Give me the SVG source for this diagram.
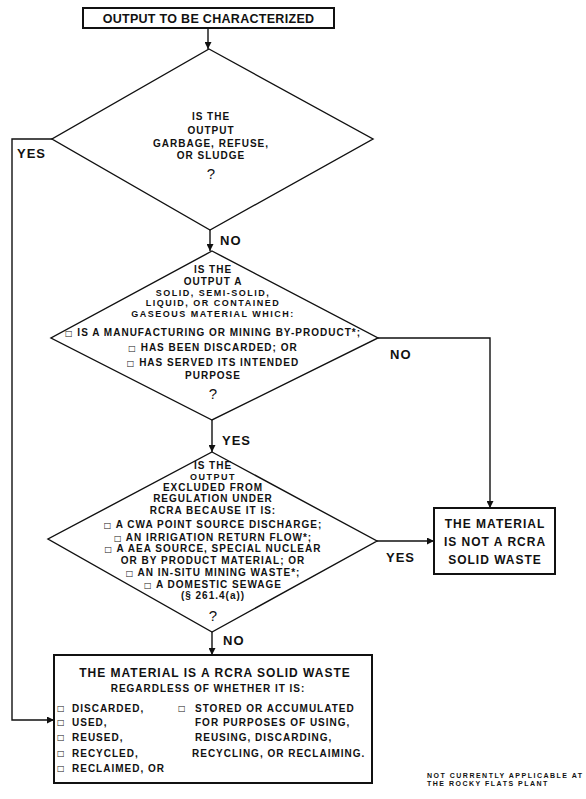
<svg xmlns="http://www.w3.org/2000/svg" width="586" height="799" viewBox="0 0 586 799">
  <defs>
    <marker id="ah" viewBox="0 0 10 10" refX="10" refY="5" markerWidth="7" markerHeight="7" markerUnits="userSpaceOnUse" orient="auto">
      <path d="M0,0 L10,5 L0,10 z" fill="#111"/>
    </marker>
    <style>
      .box{fill:#fff;stroke:#111;stroke-width:2}
      .dia{fill:#fff;stroke:#111;stroke-width:1.4}
      .wire{fill:none;stroke:#111;stroke-width:1.4}
      text{font-family:"Liberation Sans",Arial,"DejaVu Sans",sans-serif;font-weight:bold;fill:#111}
      .t{font-size:10px;letter-spacing:1px;text-anchor:middle}
      .s{font-size:9px;letter-spacing:1.5px}
      .l{font-size:10px;letter-spacing:1px}
      .h{font-size:12px;letter-spacing:1px;text-anchor:middle}
      .q{font-size:15px;text-anchor:middle;font-weight:normal}
      .lab{font-size:13px;letter-spacing:1px}
      .b{font-family:"DejaVu Sans",sans-serif;font-size:8px;font-weight:normal}
      .fn{font-size:7px;letter-spacing:1.5px}
    </style>
  </defs>

  <rect width="586" height="799" fill="#fff"/>

  <!-- connectors -->
  <g id="connectors">
    <path class="wire" d="M208,28 V49" marker-end="url(#ah)"/>
    <path class="wire" d="M210,230 V251" marker-end="url(#ah)"/>
    <path class="wire" d="M212,420 V452" marker-end="url(#ah)"/>
    <path class="wire" d="M212,632 V655" marker-end="url(#ah)"/>
    <path class="wire" d="M52,139 H12 V720 H54" marker-end="url(#ah)"/>
    <path class="wire" d="M378,338 H490 V508" marker-end="url(#ah)"/>
    <path class="wire" d="M377,541 H434" marker-end="url(#ah)"/>
    <text class="lab" x="17" y="158">YES</text>
    <text class="lab" x="220" y="245">NO</text>
    <text class="lab" x="390" y="359">NO</text>
    <text class="lab" x="222" y="445">YES</text>
    <text class="lab" x="386" y="562">YES</text>
    <text class="lab" x="223" y="645">NO</text>
  </g>

  <!-- start -->
  <g id="start">
    <rect class="box" x="83" y="8" width="251" height="20"/>
    <text x="208.5" y="23" font-size="12.5" letter-spacing="0.3" text-anchor="middle">OUTPUT TO BE CHARACTERIZED</text>
  </g>

  <!-- decision 1 -->
  <g id="q-garbage">
    <polygon class="dia" points="209,49 373,139 210,230 52,139"/>
    <text class="t" x="211" y="119.5">IS THE</text>
    <text class="t" x="211" y="133.5">OUTPUT</text>
    <text class="t" x="211" y="146.5">GARBAGE, REFUSE,</text>
    <text class="t" x="211" y="158.5">OR SLUDGE</text>
    <text class="q" x="211" y="179">?</text>
  </g>

  <!-- decision 2 -->
  <g id="q-material">
    <polygon class="dia" points="212,251 378,338 212,420 51,338"/>
    <text class="t" x="213" y="272.5">IS THE</text>
    <text class="t" x="213" y="284.5">OUTPUT A</text>
    <text class="t s" x="213" y="295.5">SOLID, SEMI-SOLID,</text>
    <text class="t s" x="213" y="306">LIQUID, OR CONTAINED</text>
    <text class="t s" x="213" y="316.5">GASEOUS MATERIAL WHICH:</text>
    <text class="t" x="213" y="335.5"><tspan class="b">□</tspan> IS A MANUFACTURING OR MINING BY-PRODUCT*;</text>
    <text class="t" x="213" y="350.5"><tspan class="b">□</tspan> HAS BEEN DISCARDED; OR</text>
    <text class="t" x="213" y="365.5"><tspan class="b">□</tspan> HAS SERVED ITS INTENDED</text>
    <text class="t" x="213" y="378.5">PURPOSE</text>
    <text class="q" x="213" y="399">?</text>
  </g>

  <!-- decision 3 -->
  <g id="q-excluded">
    <polygon class="dia" points="212,452 377,541 212,632 48,539"/>
    <text class="t" x="213" y="468.5">IS THE</text>
    <text class="t s" x="213" y="479.5">OUTPUT</text>
    <text class="t" x="213" y="490.5">EXCLUDED FROM</text>
    <text class="t" x="213" y="501.5">REGULATION UNDER</text>
    <text class="t" x="213" y="513.5">RCRA BECAUSE IT IS:</text>
    <text class="t" x="213" y="527.5"><tspan class="b">□</tspan> A CWA POINT SOURCE DISCHARGE;</text>
    <text class="t" x="213" y="540.5"><tspan class="b">□</tspan> AN IRRIGATION RETURN FLOW*;</text>
    <text class="t" x="213" y="551.5"><tspan class="b">□</tspan> A AEA SOURCE, SPECIAL NUCLEAR</text>
    <text class="t" x="213" y="563.5">OR BY PRODUCT MATERIAL; OR</text>
    <text class="t" x="213" y="575.5"><tspan class="b">□</tspan> AN IN-SITU MINING WASTE*;</text>
    <text class="t" x="213" y="587.5"><tspan class="b">□</tspan> A DOMESTIC SEWAGE</text>
    <text class="t" x="213" y="598.5">(§ 261.4(a))</text>
    <text class="q" x="213" y="621">?</text>
  </g>

  <!-- outcome: not a solid waste -->
  <g id="not-waste">
    <rect class="box" x="434" y="508" width="121" height="66"/>
    <text class="h" x="495" y="527.5">THE MATERIAL</text>
    <text class="h" x="495" y="545.5">IS NOT A RCRA</text>
    <text class="h" x="495" y="563.5">SOLID WASTE</text>
  </g>

  <!-- outcome: solid waste -->
  <g id="is-waste">
    <rect class="box" x="54" y="655" width="318" height="128"/>
    <text class="h" x="215" y="676.5">THE MATERIAL IS A RCRA SOLID WASTE</text>
    <text class="t" x="208" y="692">REGARDLESS OF WHETHER IT IS:</text>
    <text class="b" x="57" y="711">□</text>
    <text class="b" x="57" y="725">□</text>
    <text class="b" x="57" y="740">□</text>
    <text class="b" x="57" y="756">□</text>
    <text class="b" x="57" y="771">□</text>
    <text class="l" x="72" y="711.5">DISCARDED,</text>
    <text class="l" x="72" y="725.5">USED,</text>
    <text class="l" x="72" y="740.5">REUSED,</text>
    <text class="l" x="72" y="756.5">RECYCLED,</text>
    <text class="l" x="72" y="771.5">RECLAIMED, OR</text>
    <text class="b" x="178" y="711">□</text>
    <text class="l" x="195" y="711.5">STORED OR ACCUMULATED</text>
    <text class="l" x="195" y="725.5">FOR PURPOSES OF USING,</text>
    <text class="l" x="195" y="740.5">REUSING, DISCARDING,</text>
    <text class="l" x="192" y="756.5">RECYCLING, OR RECLAIMING.</text>
  </g>

  <!-- footnote -->
  <g id="footnote">
    <text class="fn" x="427" y="778">NOT CURRENTLY APPLICABLE AT</text>
    <text class="fn" x="427" y="786">THE ROCKY FLATS PLANT</text>
  </g>
</svg>
